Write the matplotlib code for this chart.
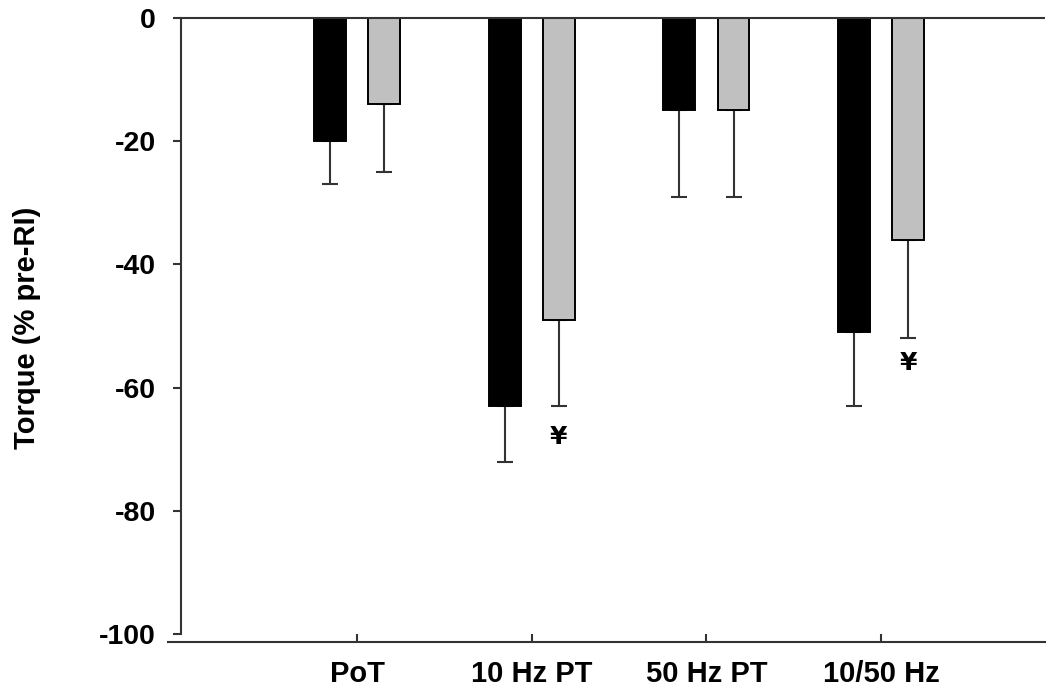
import matplotlib
matplotlib.use("Agg")
import matplotlib.pyplot as plt
import numpy as np

categories = ["PoT", "10 Hz PT", "50 Hz PT", "10/50 Hz"]
black_vals = [-20, -63, -15, -51]
black_err = [7, 9, 14, 12]
gray_vals = [-14, -49, -15, -36]
gray_err = [11, 14, 14, 16]
marks = ["", "¥", "", "¥"]
mark_y = [None, -68, None, -56]
yticks = [0, -20, -40, -60, -80, -100]

plt.rcParams['font.family'] = ['Liberation Sans', 'DejaVu Sans']

fig = plt.figure(figsize=(10.51, 6.89), dpi=100)
W, H = 1051, 689
ax = fig.add_axes([168 / W, 1 - 634 / H, (1045 - 168) / W, (634 - 18) / H])

x = np.arange(len(categories))
off = 0.155
bw = 0.183
ax.bar(x - off, black_vals, bw, color='black', edgecolor='black', linewidth=1.4, zorder=3)
ax.bar(x + off, gray_vals, bw, color='#c0c0c0', edgecolor='black', linewidth=1.4, zorder=3)
ax.errorbar(x - off, black_vals, yerr=[black_err, [0] * 4], fmt='none', ecolor='#333333',
            elinewidth=1.5, capsize=6, capthick=1.5, zorder=2)
ax.errorbar(x + off, gray_vals, yerr=[gray_err, [0] * 4], fmt='none', ecolor='#333333',
            elinewidth=1.5, capsize=6, capthick=1.5, zorder=2)
for xi, m, my in zip(x, marks, mark_y):
    if m:
        ax.text(xi + off, my, m, ha='center', va='center', fontsize=18,
                fontweight='bold', family=['DejaVu Sans'])

x_left = -1.082
x_spine = -1.007
x_right = 3.938
ax.set_xlim(x_left, x_right)
ax.set_ylim(-100, 0)
ax.hlines(0, x_spine, x_right, color='#333333', linewidth=1.5, zorder=4, clip_on=False)

for s in ['top', 'right']:
    ax.spines[s].set_visible(False)
ax.spines['left'].set_position(('data', x_spine))
ax.spines['left'].set_color('#333333')
ax.spines['left'].set_linewidth(1.5)
ax.spines['bottom'].set_position(('outward', 6))
ax.spines['bottom'].set_color('#333333')
ax.spines['bottom'].set_linewidth(1.5)

ax.set_yticks(yticks)
ax.set_yticklabels([str(v) for v in yticks], fontsize=20.5, fontweight='bold')
ax.tick_params(axis='y', direction='out', length=6, width=1.5, color='#333333', pad=12)
ax.set_xticks(x)
ax.set_xticklabels(categories, fontsize=21, fontweight='bold')
ax.tick_params(axis='x', direction='in', length=6, width=1.5, color='#333333', pad=13)

ax.set_ylabel("Torque (% pre-RI)", fontsize=21, fontweight='bold')
ax.yaxis.set_label_coords(-0.145, 0.497)

fig.savefig("out.png", dpi=100)
